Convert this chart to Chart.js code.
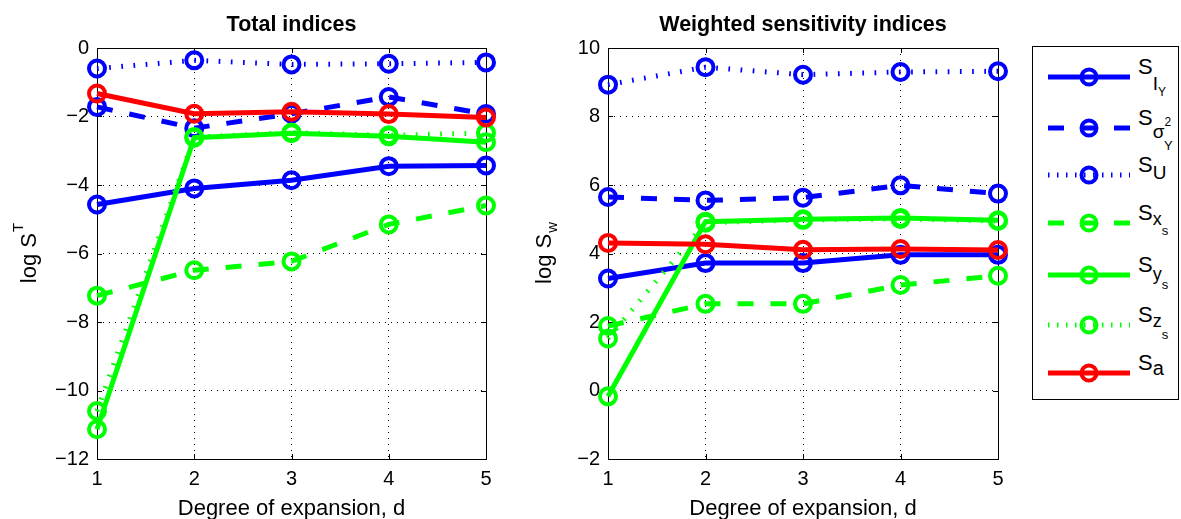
<!DOCTYPE html>
<html>
<head>
<meta charset="utf-8">
<script src="https://cdn.jsdelivr.net/npm/chart.js@4.4.0/dist/chart.umd.min.js"></script>
<style>
  html, body { margin: 0; padding: 0; background: #fff; }
  body { width: 1181px; height: 519px; position: relative; overflow: hidden; font-family: "Liberation Sans", Arial, sans-serif; }
  canvas { position: absolute; top: 0; }
  #c1 { left: 0; }
  #c2 { left: 500px; }
  #legend { position: absolute; left: 1032px; top: 46px; width: 147px; height: 354px; border: 1px solid #000; background: #fff; box-sizing: border-box; }
  .row { position: absolute; left: 0; width: 145px; height: 20px; }
  .row svg { position: absolute; left: 15px; top: 0; }
  .lab { position: absolute; left: 105px; top: -11px; font-size: 22px; line-height: 22px; white-space: nowrap; }
  .s1 { font-size: 19px; position: relative; top: 6px; }
  .s1.low { top: 16px; }
  .s2 { font-size: 13px; position: relative; top: 8px; }
  .sup { font-size: 12px; position: relative; top: 1px; }
  .subY { font-size: 13px; position: relative; top: 25px; margin-left: -7px; }
</style>
</head>
<body>
<canvas id="c1" width="500" height="519"></canvas>
<canvas id="c2" width="512" height="519"></canvas>
<div id="legend"></div>
<script>
const degrees = [1, 2, 3, 4, 5]

// total indices, log S^T
const totalIY = [-4.57, -4.10, -3.86, -3.45, -3.43]
const totalVarY = [-1.72, -2.34, -1.92, -1.43, -1.93]
const totalU = [-0.60, -0.36, -0.48, -0.46, -0.42]
const totalXs = [-7.23, -6.49, -6.23, -5.15, -4.60]
const totalYs = [-11.13, -2.62, -2.49, -2.58, -2.75]
const totalZs = [-10.60, -2.60, -2.47, -2.55, -2.48]
const totalA = [-1.33, -1.92, -1.86, -1.93, -2.03]

// weighted sensitivity indices, log S_w
const weightedIY = [3.27, 3.72, 3.72, 3.96, 3.96]
const weightedVarY = [5.65, 5.55, 5.63, 5.99, 5.75]
const weightedU = [8.93, 9.44, 9.22, 9.30, 9.32]
const weightedXs = [1.88, 2.53, 2.53, 3.08, 3.35]
const weightedYs = [-0.17, 4.93, 5.00, 5.04, 4.97]
const weightedZs = [1.52, 4.90, 4.98, 5.01, 4.95]
const weightedA = [4.31, 4.27, 4.11, 4.13, 4.10]

const totalRange = [-12, 0]
const weightedRange = [-2, 10]

// series looks (same order as the data)
const seriesLabels = [
  'S<span class="s1 low">I<span class="s2" style="top:6px;font-size:12px">Y</span></span>',
  'S<span class="s1" style="top:13px">σ</span><span class="sup">2</span><span class="subY">Y</span>',
  'S<span class="s1" style="top:7px">U</span>',
  'S<span class="s1" style="top:5px;font-size:18px">x<span class="s2" style="top:10px">s</span></span>',
  'S<span class="s1" style="top:8px;font-size:18px">y<span class="s2" style="top:9px">s</span></span>',
  'S<span class="s1" style="top:5px;font-size:18px">z<span class="s2" style="top:12px">s</span></span>',
  'S<span class="s1" style="top:5px;font-size:20px">a</span>',
]
const seriesColors = ['#0000ff', '#0000ff', '#0000ff', '#00ff00', '#00ff00', '#00ff00', '#ff0000']
const seriesDash = ['solid', 'dashed', 'dotted', 'dashed', 'solid', 'dotted', 'solid']
const dashes = { solid: [], dashed: [16, 17], dotted: [1.7, 10.5] }
const legendDashes = { solid: [], dashed: [16, 17], dotted: [1.5, 7.5] }

const FONT = '"Liberation Sans", Arial, sans-serif'

const matlabAxes = {
  id: 'matlabAxes',
  beforeDatasetsDraw(chart, args, opts) {
    const { ctx, chartArea: a, scales } = chart
    ctx.save()
    ctx.strokeStyle = '#000'
    ctx.lineWidth = 1
    ctx.strokeRect(Math.round(a.left) + 0.5, Math.round(a.top) + 0.5, Math.round(a.right - a.left), Math.round(a.bottom - a.top))
    ctx.beginPath()
    scales.x.ticks.forEach(t => {
      const px = Math.round(scales.x.getPixelForValue(t.value)) + 0.5
      ctx.moveTo(px, a.bottom); ctx.lineTo(px, a.bottom - 5)
      ctx.moveTo(px, a.top); ctx.lineTo(px, a.top + 5)
    })
    scales.y.ticks.forEach(t => {
      const py = Math.round(scales.y.getPixelForValue(t.value)) + 0.5
      ctx.moveTo(a.left, py); ctx.lineTo(a.left + 5, py)
      ctx.moveTo(a.right, py); ctx.lineTo(a.right - 5, py)
    })
    ctx.stroke()

    const cx = (a.left + a.right) / 2
    ctx.fillStyle = '#000'
    ctx.textAlign = 'center'
    ctx.textBaseline = 'alphabetic'
    ctx.font = 'bold 21.5px ' + FONT
    ctx.fillText(opts.title, cx, 31)
    ctx.font = '22px ' + FONT
    ctx.fillText('Degree of expansion, d', cx, 515)

    // y label with a raised or lowered script
    const cy = (a.top + a.bottom) / 2
    ctx.translate(opts.yLabelX, cy)
    ctx.rotate(-Math.PI / 2)
    ctx.textAlign = 'left'
    ctx.font = '22px ' + FONT
    const main = 'log S'
    const wMain = ctx.measureText(main).width
    ctx.font = '15px ' + FONT
    const wScript = ctx.measureText(opts.script).width
    const x0 = -(wMain + wScript) / 2
    ctx.font = '22px ' + FONT
    ctx.fillText(main, x0, 8)
    ctx.font = '15px ' + FONT
    ctx.fillText(opts.script, x0 + wMain + 1, opts.scriptUp ? -5 : 14)
    ctx.restore()
  },
}

function makeDatasets(seriesValues) {
  return seriesValues.map((vals, i) => ({
    data: degrees.map((d, j) => ({ x: d, y: vals[j] })),
    borderColor: seriesColors[i],
    borderWidth: 5,
    borderDash: dashes[seriesDash[i]],
    pointRadius: 8,
    pointHoverRadius: 8,
    pointBorderWidth: 4,
    pointBorderColor: seriesColors[i],
    pointBackgroundColor: 'rgba(0,0,0,0)',
    fill: false,
    tension: 0,
    clip: false,
    order: seriesValues.length - i,
  }))
}

function makeChart(id, seriesValues, range, axisWidth, plotOpts) {
  const ctx = document.getElementById(id).getContext('2d')
  return new Chart(ctx, {
    type: 'line',
    data: { datasets: makeDatasets(seriesValues) },
    plugins: [matlabAxes],
    options: {
      responsive: false,
      animation: false,
      events: [],
      layout: { padding: { left: 0, top: 48, right: 14, bottom: 0 } },
      plugins: {
        legend: { display: false },
        tooltip: { enabled: false },
        title: { display: false },
        matlabAxes: plotOpts,
      },
      scales: {
        x: {
          type: 'linear',
          min: 1,
          max: 5,
          afterFit: s => { s.height = 60 },
          grid: { color: '#000', lineWidth: 1, drawTicks: false },
          border: { display: false, dash: [1, 5] },
          ticks: { stepSize: 1, padding: 8, color: '#000', font: { family: FONT, size: 20 } },
        },
        y: {
          type: 'linear',
          min: range[0],
          max: range[1],
          afterFit: s => { s.width = axisWidth },
          grid: { color: '#000', lineWidth: 1, drawTicks: false },
          border: { display: false, dash: [1, 5] },
          ticks: {
            stepSize: 2,
            padding: 8,
            color: '#000',
            font: { family: FONT, size: 20 },
            callback: v => String(v).replace('-', '\u2212'),
          },
        },
      },
    },
  })
}

makeChart('c1', [totalIY, totalVarY, totalU, totalXs, totalYs, totalZs, totalA], totalRange, 97,
  { title: 'Total indices', yLabelX: 28, script: 'T', scriptUp: true })
makeChart('c2', [weightedIY, weightedVarY, weightedU, weightedXs, weightedYs, weightedZs, weightedA], weightedRange, 108,
  { title: 'Weighted sensitivity indices', yLabelX: 43, script: 'w', scriptUp: false })

// legend, row tops = line centre - 10
const rowTops = [20, 71, 118, 166, 218, 268, 316]
const legend = document.getElementById('legend')
const svgNS = 'http://www.w3.org/2000/svg'
seriesLabels.forEach((lab, i) => {
  const row = document.createElement('div')
  row.className = 'row'
  row.style.top = rowTops[i] + 'px'
  const svg = document.createElementNS(svgNS, 'svg')
  svg.setAttribute('width', '82')
  svg.setAttribute('height', '20')
  const line = document.createElementNS(svgNS, 'line')
  line.setAttribute('x1', '0'); line.setAttribute('x2', '82')
  line.setAttribute('y1', '10'); line.setAttribute('y2', '10')
  line.setAttribute('stroke', seriesColors[i])
  line.setAttribute('stroke-width', '5')
  const d = legendDashes[seriesDash[i]]
  if (d.length) line.setAttribute('stroke-dasharray', d.join(' '))
  const circ = document.createElementNS(svgNS, 'circle')
  circ.setAttribute('cx', '41'); circ.setAttribute('cy', '10'); circ.setAttribute('r', '7.5')
  circ.setAttribute('fill', 'none')
  circ.setAttribute('stroke', seriesColors[i])
  circ.setAttribute('stroke-width', '4')
  svg.appendChild(line)
  svg.appendChild(circ)
  row.appendChild(svg)
  const text = document.createElement('div')
  text.className = 'lab'
  text.innerHTML = lab
  row.appendChild(text)
  legend.appendChild(row)
})
</script>
</body>
</html>
